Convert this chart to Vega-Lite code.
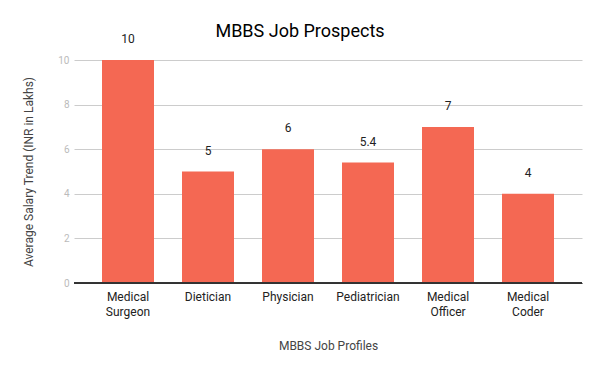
{
  "$schema": "https://vega.github.io/schema/vega-lite/v6.json",
  "width": 508,
  "height": 223,
  "autosize": "none",
  "padding": {"left": 74, "top": 60, "right": 18, "bottom": 88},
  "background": "white",
  "config": {
    "font": "Roboto",
    "view": {"stroke": null}
  },
  "title": {
    "text": "MBBS Job Prospects",
    "fontSize": 18,
    "fontWeight": "normal",
    "color": "#000000",
    "anchor": "middle",
    "offset": -8,
    "dx": -28,
    "font": "Roboto"
  },
  "data": {
    "values": [
      {"profile": "Medical Surgeon", "salary": 10, "label": "10"},
      {"profile": "Dietician", "salary": 5, "label": "5"},
      {"profile": "Physician", "salary": 6, "label": "6"},
      {"profile": "Pediatrician", "salary": 5.4, "label": "5.4"},
      {"profile": "Medical Officer", "salary": 7, "label": "7"},
      {"profile": "Medical Coder", "salary": 4, "label": "4"}
    ]
  },
  "encoding": {
    "x": {
      "field": "profile",
      "type": "nominal",
      "sort": null,
      "scale": {"paddingInner": 0.35, "paddingOuter": 0.35},
      "axis": {
        "title": "MBBS Job Profiles",
        "titleFontSize": 12,
        "titleFontWeight": "normal",
        "titleColor": "#444444",
        "titlePadding": 23,
        "labelAngle": 0,
        "labelFontSize": 12,
        "labelColor": "#222222",
        "labelPadding": 8,
        "labelLineHeight": 15,
        "labelExpr": "split(datum.label, ' ')",
        "ticks": false,
        "domainColor": "#333333",
        "domainWidth": 1
      }
    },
    "y": {
      "field": "salary",
      "type": "quantitative",
      "scale": {"domain": [0, 10]},
      "axis": {
        "title": "Average Salary Trend (INR in Lakhs)",
        "titleFontSize": 12,
        "titleFontWeight": "normal",
        "titleColor": "#444444",
        "titlePadding": 22,
        "values": [0, 2, 4, 6, 8, 10],
        "labelFontSize": 10,
        "labelColor": "#bbbbbb",
        "labelPadding": 5,
        "ticks": false,
        "domain": false,
        "gridColor": "#cccccc"
      }
    }
  },
  "layer": [
    {"mark": {"type": "bar", "color": "#f46853"}},
    {
      "mark": {"type": "text", "baseline": "bottom", "dy": -14, "fontSize": 12, "color": "#222222", "font": "Roboto"},
      "encoding": {"text": {"field": "label"}}
    },
    {
      "mark": {"type": "rule", "color": "#333333"},
      "encoding": {"y": {"datum": 0}, "x": null}
    }
  ]
}
